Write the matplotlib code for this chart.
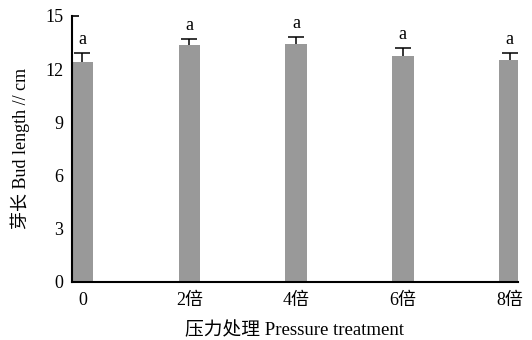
import matplotlib.pyplot as plt

categories = ['0', '2倍', '4倍', '6倍', '8倍']
bud_length = [12.4, 13.35, 13.4, 12.75, 12.5]
err_up = [0.5, 0.35, 0.4, 0.45, 0.4]
letters = ['a', 'a', 'a', 'a', 'a']

serif = ['Liberation Serif', 'Noto Sans CJK SC']

fig = plt.figure(figsize=(5.32, 3.4), dpi=100)
ax = fig.add_axes([0.135, 0.171, 0.839, 0.782])

x = range(len(categories))
ax.bar(x, bud_length, width=0.2, color='#999999', zorder=2)
eb = ax.errorbar(x, bud_length, yerr=[[0] * len(err_up), err_up], fmt='none',
                 ecolor='black', elinewidth=1.1, capsize=6, capthick=1.1, zorder=3)
# only the upper cap is drawn in the original
eb[1][0].set_visible(False)
for xi, v, e, t in zip(x, bud_length, err_up, letters):
    ax.text(xi, v + e + 0.3, t, ha='center', va='bottom', fontsize=13, family=serif)

ax.set_xlim(-0.1, 4.08)
ax.set_ylim(0, 15)
ax.set_yticks([0, 3, 6, 9, 12, 15])
ax.set_xticks(list(x))
ax.set_xticklabels(categories, family=serif, fontsize=13)
for lab in ax.get_yticklabels():
    lab.set_family(serif)
    lab.set_fontsize(13)
ax.tick_params(axis='y', direction='in', length=5, width=1.2, pad=6)
ax.tick_params(axis='x', length=0, pad=7)

ax.spines['top'].set_visible(False)
ax.spines['right'].set_visible(False)
ax.spines['left'].set_linewidth(1.5)
ax.spines['bottom'].set_linewidth(1.5)

ax.set_xlabel('压力处理 Pressure treatment', family=serif, fontsize=13.5, labelpad=9)
ax.set_ylabel('芽长 Bud length // cm', family=serif, fontsize=13, labelpad=11)

fig.savefig('out.png', dpi=100, facecolor='white')
